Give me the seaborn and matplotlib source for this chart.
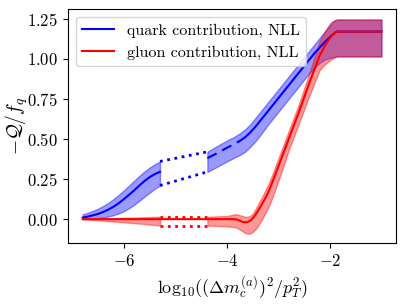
"""
Quark and gluon contributions to -Q/f_q at NLL, with uncertainty bands.
"""
import numpy as np
import matplotlib
matplotlib.use("Agg")
import matplotlib.pyplot as plt
import seaborn as sns

# quark, first segment (before the gap)
quark_x1 = [-6.8, -6.7, -6.6, -6.5, -6.4, -6.3, -6.2, -6.1, -6.0, -5.9,
            -5.8, -5.7, -5.6, -5.5, -5.4, -5.3]
quark_c1 = [0.010, 0.016, 0.024, 0.033, 0.045, 0.060, 0.078, 0.100, 0.125, 0.152,
            0.180, 0.210, 0.238, 0.262, 0.281, 0.295]
quark_lo1 = [0.0, 0.002, 0.004, 0.007, 0.011, 0.017, 0.025, 0.036, 0.050, 0.068,
             0.090, 0.115, 0.140, 0.165, 0.190, 0.210]
quark_hi1 = [0.030, 0.040, 0.052, 0.066, 0.083, 0.103, 0.126, 0.152, 0.180, 0.210,
             0.240, 0.270, 0.298, 0.322, 0.343, 0.360]

# quark, second segment (after the gap); dashed up to -3.75
quark_x2 = [-4.38, -4.2, -4.0, -3.85, -3.75, -3.65, -3.55, -3.45, -3.35, -3.2,
            -3.0, -2.8, -2.6, -2.4, -2.3, -2.2, -2.1, -2.0, -1.95, -1.9,
            -1.86, -1.5, -1.0]
quark_c2 = [0.38, 0.41, 0.445, 0.47, 0.488, 0.51, 0.54, 0.575, 0.615, 0.675,
            0.755, 0.835, 0.915, 0.995, 1.035, 1.07, 1.105, 1.135, 1.15, 1.163,
            1.17, 1.17, 1.17]
quark_lo2 = [0.295, 0.325, 0.36, 0.385, 0.40, 0.42, 0.45, 0.485, 0.525, 0.59,
             0.67, 0.75, 0.83, 0.91, 0.945, 0.975, 0.995, 1.005, 1.01, 1.013,
             1.015, 1.015, 1.015]
quark_hi2 = [0.42, 0.455, 0.49, 0.515, 0.535, 0.56, 0.59, 0.63, 0.67, 0.73,
             0.81, 0.89, 0.97, 1.05, 1.09, 1.13, 1.17, 1.21, 1.228, 1.24,
             1.245, 1.245, 1.245]
quark_dash_end = -3.75

# gluon, first segment
gluon_x1 = [-6.8, -6.4, -6.0, -5.6, -5.3]
gluon_c1 = [0.0, 0.0, 0.0, 0.0, 0.0]
gluon_lo1 = [0.0, -0.01, -0.02, -0.03, -0.04]
gluon_hi1 = [0.0, 0.004, 0.008, 0.012, 0.015]

# gluon, second segment
gluon_x2 = [-4.38, -4.0, -3.85, -3.8, -3.75, -3.7, -3.65, -3.6, -3.55, -3.5,
            -3.45, -3.4, -3.3, -3.2, -3.1, -3.0, -2.8, -2.6, -2.4, -2.2,
            -2.1, -2.0, -1.95, -1.9, -1.86, -1.5, -1.0]
gluon_c2 = [0.0, 0.0, 0.0, -0.003, -0.01, -0.017, -0.02, -0.018, -0.01, 0.005,
            0.025, 0.05, 0.105, 0.165, 0.245, 0.33, 0.50, 0.67, 0.85, 1.02,
            1.08, 1.13, 1.15, 1.163, 1.17, 1.17, 1.17]
gluon_lo2 = [-0.04, -0.045, -0.05, -0.055, -0.065, -0.075, -0.085, -0.09, -0.09, -0.08,
             -0.065, -0.045, 0.01, 0.07, 0.15, 0.24, 0.43, 0.60, 0.77, 0.93,
             0.965, 0.99, 1.0, 1.01, 1.015, 1.015, 1.015]
gluon_hi2 = [0.015, 0.02, 0.03, 0.03, 0.025, 0.02, 0.015, 0.015, 0.02, 0.035,
             0.06, 0.09, 0.15, 0.215, 0.295, 0.38, 0.55, 0.72, 0.91, 1.11,
             1.17, 1.22, 1.235, 1.243, 1.245, 1.245, 1.245]


def main():
    plt.rcParams.update({
        "font.family": "serif",
        "font.serif": ["cmr10", "DejaVu Serif"],
        "mathtext.fontset": "cm",
        "axes.formatter.use_mathtext": True,
    })

    fig = plt.figure(figsize=(4.06, 3.04), dpi=100)
    ax = fig.add_axes([0.167, 0.20, 0.808, 0.77])

    alpha = 0.4

    # quark
    ax.fill_between(quark_x1, quark_lo1, quark_hi1, color="blue", alpha=alpha)
    ax.fill_between(quark_x2, quark_lo2, quark_hi2, color="blue", alpha=alpha)
    sns.lineplot(x=quark_x1, y=quark_c1, color="blue", lw=1.5, ax=ax,
                 label="quark contribution, NLL")
    qx2 = np.array(quark_x2)
    qc2 = np.array(quark_c2)
    dash = qx2 <= quark_dash_end
    sns.lineplot(x=qx2[dash], y=qc2[dash], color="blue", lw=1.5, ax=ax,
                 linestyle=(0, (5, 3)))
    sns.lineplot(x=qx2[qx2 >= quark_dash_end], y=qc2[qx2 >= quark_dash_end],
                 color="blue", lw=1.5, ax=ax)
    gap_x = [quark_x1[-1], quark_x2[0]]
    ax.plot(gap_x, [quark_hi1[-1], quark_hi2[0]], color="blue", ls=":", lw=2)
    ax.plot(gap_x, [quark_lo1[-1], quark_lo2[0]], color="blue", ls=":", lw=2)

    # gluon
    ax.fill_between(gluon_x1, gluon_lo1, gluon_hi1, color="red", alpha=alpha)
    ax.fill_between(gluon_x2, gluon_lo2, gluon_hi2, color="red", alpha=alpha)
    sns.lineplot(x=gluon_x1 + gluon_x2, y=gluon_c1 + gluon_c2, color="red",
                 lw=1.5, ax=ax, label="gluon contribution, NLL")
    gap_x = [gluon_x1[-1], gluon_x2[0]]
    ax.plot(gap_x, [gluon_hi1[-1], gluon_hi2[0]], color="red", ls=":", lw=2)
    ax.plot(gap_x, [gluon_lo1[-1], gluon_lo2[0]], color="red", ls=":", lw=2)

    ax.set_xlim(-7.09, -0.72)
    ax.set_ylim(-0.15, 1.31)
    ax.set_xticks([-6, -4, -2])
    ax.set_yticks([0.0, 0.25, 0.5, 0.75, 1.0, 1.25])
    ax.tick_params(labelsize=12)
    ax.set_xlabel(r"$\mathrm{log}_{10}((\Delta m_c^{(a)})^2/p_T^2)$", fontsize=13)
    ax.set_ylabel(r"$-\mathcal{Q}/f_q$", fontsize=14)
    ax.yaxis.set_label_coords(-0.115, 0.5)
    ax.legend(loc="upper left", fontsize=11.5)

    fig.savefig("out.png", dpi=100)


if __name__ == "__main__":
    main()
